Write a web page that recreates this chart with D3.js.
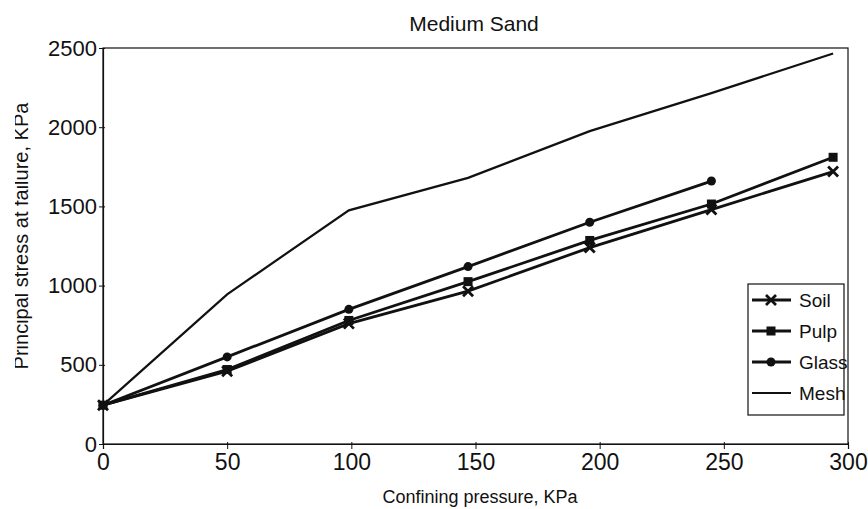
<!DOCTYPE html>
<html>
<head>
<meta charset="utf-8">
<script src="https://cdn.jsdelivr.net/npm/d3@7"></script>
<style>
  body { margin: 0; background: #fff; }
  svg { display: block; font-family: "Liberation Sans", Arial, sans-serif; }
</style>
</head>
<body>
<div id="chart"></div>
<script>
// confining pressure, KPa
const pressure = [0, 50, 99, 147, 196, 245, 294];
// principal stress at failure, KPa
const soil  = [245, 460, 760, 965, 1240, 1480, 1720];
const pulp  = [245, 470, 780, 1025, 1285, 1515, 1810];
const glass = [245, 550, 850, 1120, 1400, 1660];
const mesh  = [245, 945, 1475, 1680, 1975, 2215, 2465];

const seriesNames = ["Soil", "Pulp", "Glass", "Mesh"];
const seriesValues = [soil, pulp, glass, mesh];
const markerTypes = ["cross", "square", "circle", "none"];

const xTicks = [0, 50, 100, 150, 200, 250, 300];
const yTicks = [0, 500, 1000, 1500, 2000, 2500];

const width = 868, height = 509;
const margin = {top: 48, right: 20, bottom: 65, left: 103};
const font = "'Liberation Sans', Arial, sans-serif";

const svg = d3.select("#chart").append("svg")
    .attr("width", width)
    .attr("height", height);

const x = d3.scaleLinear().domain([0, 300]).range([margin.left, width - margin.right]);
const y = d3.scaleLinear().domain([0, 2500]).range([height - margin.bottom, margin.top]);

// plot frame
svg.append("rect")
    .attr("x", x(0)).attr("y", y(2500))
    .attr("width", x(300) - x(0)).attr("height", y(0) - y(2500))
    .attr("fill", "none").attr("stroke", "#111").attr("stroke-width", 1.2);

const xAxis = svg.append("g")
    .attr("transform", `translate(0,${y(0)})`)
    .call(d3.axisBottom(x).tickValues(xTicks).tickFormat(d3.format("d")).tickSize(5).tickPadding(5));
const yAxis = svg.append("g")
    .attr("transform", `translate(${x(0)},0)`)
    .call(d3.axisLeft(y).tickValues(yTicks).tickFormat(d3.format("d")).tickSize(4).tickPadding(2));

[xAxis, yAxis].forEach(a => {
    a.attr("font-family", null).attr("font-size", null);
    a.select(".domain").attr("stroke", "#111").attr("stroke-width", 1.2);
    a.selectAll(".tick line").attr("stroke", "#111");
    a.selectAll(".tick text")
        .attr("fill", "#111")
        .style("font-family", font);
});
xAxis.selectAll(".tick text").style("font-size", "23px");
yAxis.selectAll(".tick text").style("font-size", "22px");
// ticks cross the axes a little
xAxis.selectAll(".tick line").attr("y1", -2);
yAxis.selectAll(".tick line").attr("x1", 2);

// title and axis labels
svg.append("text")
    .attr("x", 474).attr("y", 31)
    .attr("text-anchor", "middle")
    .style("font-size", "21px")
    .attr("fill", "#111")
    .text("Medium Sand");

svg.append("text")
    .attr("x", 480).attr("y", 503)
    .attr("text-anchor", "middle")
    .style("font-size", "18px")
    .attr("fill", "#111")
    .text("Confining pressure, KPa");

svg.append("clipPath").attr("id", "ylabclip")
    .append("rect").attr("x", 15).attr("y", 0).attr("width", 40).attr("height", height);

svg.append("g")
    .attr("clip-path", "url(#ylabclip)")
    .append("text")
    .attr("transform", "translate(28,236) rotate(-90)")
    .attr("text-anchor", "middle")
    .style("font-size", "20px")
    .attr("fill", "#111")
    .text("Principal stress at failure, KPa");

// lines
const line = d3.line()
    .x(d => x(d[0]))
    .y(d => y(d[1]));

const plot = svg.append("g");

function drawMarker(g, type, cx, cy) {
    if (type === "cross") {
        g.append("path")
            .attr("d", `M${cx - 5},${cy - 5}L${cx + 5},${cy + 5}M${cx - 5},${cy + 5}L${cx + 5},${cy - 5}`)
            .attr("stroke", "#111").attr("stroke-width", 2.8);
    } else if (type === "square") {
        g.append("rect")
            .attr("x", cx - 4.5).attr("y", cy - 4.5)
            .attr("width", 9).attr("height", 9)
            .attr("fill", "#111");
    } else if (type === "circle") {
        g.append("circle")
            .attr("cx", cx).attr("cy", cy).attr("r", 4.5)
            .attr("fill", "#111");
    }
}

seriesValues.forEach((vals, i) => {
    const pts = vals.map((v, j) => [pressure[j], v]);
    plot.append("path")
        .datum(pts)
        .attr("fill", "none")
        .attr("stroke", "#111")
        .attr("stroke-width", i === 3 ? 2.2 : 2.8)
        .attr("d", line);
    pts.forEach(p => drawMarker(plot, markerTypes[i], x(p[0]), y(p[1])));
});

// legend
const legend = svg.append("g");
legend.append("rect")
    .attr("x", 748).attr("y", 284)
    .attr("width", 96).attr("height", 131)
    .attr("fill", "#fff")
    .attr("stroke", "#111").attr("stroke-width", 1.2);

seriesNames.forEach((name, i) => {
    const ly = 300 + i * 31;
    legend.append("line")
        .attr("x1", 752).attr("x2", 791)
        .attr("y1", ly).attr("y2", ly)
        .attr("stroke", "#111")
        .attr("stroke-width", i === 3 ? 2.2 : 2.8);
    drawMarker(legend, markerTypes[i], 771, ly);
    legend.append("text")
        .attr("x", 799).attr("y", ly + 7)
        .style("font-size", "19px")
        .attr("fill", "#111")
        .text(name);
});
</script>
</body>
</html>
